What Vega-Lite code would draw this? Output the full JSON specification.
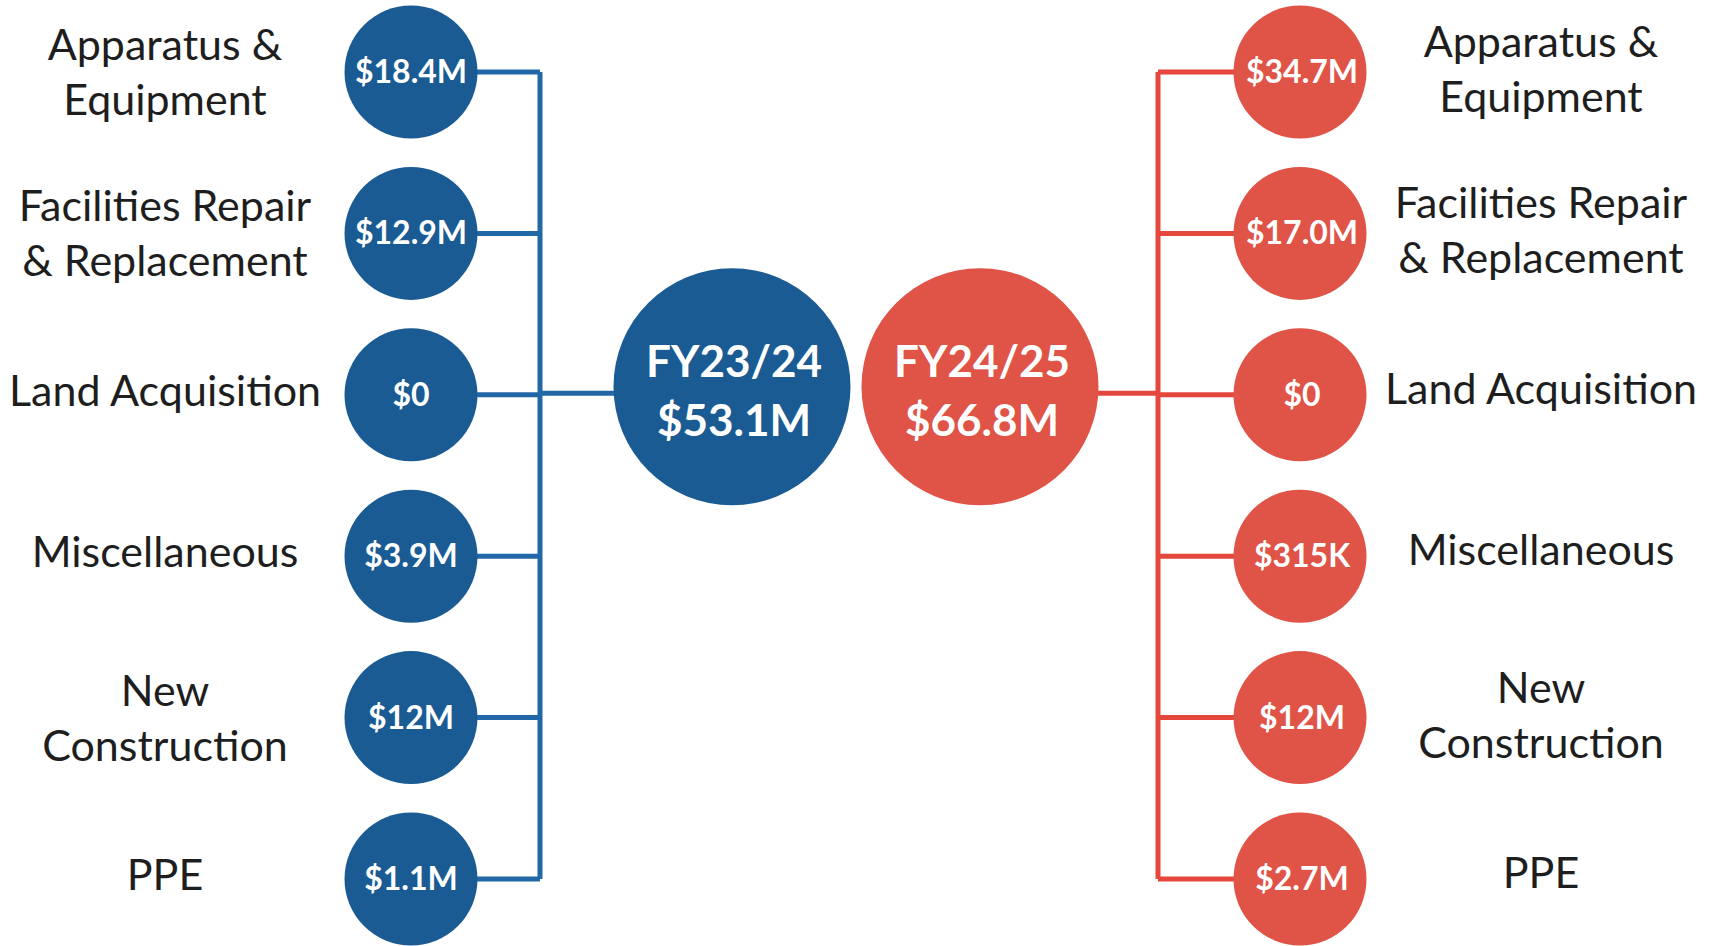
{
  "$schema": "https://vega.github.io/schema/vega-lite/v6.json",
  "width": 1713,
  "height": 946,
  "autosize": {"type": "fit", "contains": "padding"},
  "padding": 0,
  "background": "white",
  "config": {"view": {"stroke": null}, "axis": {"disable": true}},
  "datasets": {
    "items": [
      {"fy": "FY23/24", "rank": 1, "category": "Apparatus &\nEquipment", "value": 18.4, "value_label": "$18.4M"},
      {"fy": "FY23/24", "rank": 2, "category": "Facilities Repair\n& Replacement", "value": 12.9, "value_label": "$12.9M"},
      {"fy": "FY23/24", "rank": 3, "category": "Land Acquisition", "value": 0, "value_label": "$0"},
      {"fy": "FY23/24", "rank": 4, "category": "Miscellaneous", "value": 3.9, "value_label": "$3.9M"},
      {"fy": "FY23/24", "rank": 5, "category": "New\nConstruction", "value": 12, "value_label": "$12M"},
      {"fy": "FY23/24", "rank": 6, "category": "PPE", "value": 1.1, "value_label": "$1.1M"},
      {"fy": "FY24/25", "rank": 1, "category": "Apparatus &\nEquipment", "value": 34.7, "value_label": "$34.7M"},
      {"fy": "FY24/25", "rank": 2, "category": "Facilities Repair\n& Replacement", "value": 17.0, "value_label": "$17.0M"},
      {"fy": "FY24/25", "rank": 3, "category": "Land Acquisition", "value": 0, "value_label": "$0"},
      {"fy": "FY24/25", "rank": 4, "category": "Miscellaneous", "value": 0.315, "value_label": "$315K"},
      {"fy": "FY24/25", "rank": 5, "category": "New\nConstruction", "value": 12, "value_label": "$12M"},
      {"fy": "FY24/25", "rank": 6, "category": "PPE", "value": 2.7, "value_label": "$2.7M"}
    ],
    "totals": [
      {"fy": "FY23/24", "total": 53.1, "total_label": "$53.1M"},
      {"fy": "FY24/25", "total": 66.8, "total_label": "$66.8M"}
    ]
  },
  "layer": [
    {
      "data": {"name": "items"},
      "transform": [{"filter": "datum.fy === 'FY23/24'"}],
      "mark": {"type": "rule", "strokeWidth": 5, "color": "#2368a6"},
      "encoding": {
        "x": {"datum": 540, "type": "quantitative", "scale": {"domain": [0, 1713], "nice": false, "zero": false}},
        "y": {"aggregate": "min", "field": "rank", "type": "quantitative", "scale": {"domain": [0.554, 6.415], "reverse": true, "nice": false, "zero": false}},
        "y2": {"aggregate": "max", "field": "rank"}
      }
    },
    {
      "data": {"name": "items"},
      "transform": [{"filter": "datum.fy === 'FY23/24'"}],
      "mark": {"type": "rule", "strokeWidth": 5, "color": "#2368a6"},
      "encoding": {
        "x": {"datum": 411, "type": "quantitative"},
        "x2": {"datum": 540},
        "y": {"field": "rank", "type": "quantitative"}
      }
    },
    {
      "data": {"name": "items"},
      "transform": [{"filter": "datum.fy === 'FY24/25'"}],
      "mark": {"type": "rule", "strokeWidth": 5, "color": "#e6473d"},
      "encoding": {
        "x": {"datum": 1158, "type": "quantitative"},
        "y": {"aggregate": "min", "field": "rank", "type": "quantitative"},
        "y2": {"aggregate": "max", "field": "rank"}
      }
    },
    {
      "data": {"name": "items"},
      "transform": [{"filter": "datum.fy === 'FY24/25'"}],
      "mark": {"type": "rule", "strokeWidth": 5, "color": "#e6473d"},
      "encoding": {
        "x": {"datum": 1158, "type": "quantitative"},
        "x2": {"datum": 1300},
        "y": {"field": "rank", "type": "quantitative"}
      }
    },
    {
      "data": {"name": "totals"},
      "transform": [{"filter": "datum.fy === 'FY23/24'"}],
      "mark": {"type": "rule", "strokeWidth": 5, "color": "#2368a6"},
      "encoding": {
        "x": {"datum": 540, "type": "quantitative"},
        "x2": {"datum": 732},
        "y": {"datum": 2.99, "type": "quantitative"}
      }
    },
    {
      "data": {"name": "totals"},
      "transform": [{"filter": "datum.fy === 'FY24/25'"}],
      "mark": {"type": "rule", "strokeWidth": 5, "color": "#e6473d"},
      "encoding": {
        "x": {"datum": 980, "type": "quantitative"},
        "x2": {"datum": 1158},
        "y": {"datum": 2.99, "type": "quantitative"}
      }
    },
    {
      "data": {"name": "items"},
      "transform": [{"filter": "datum.fy === 'FY23/24'"}],
      "mark": {"type": "point", "shape": "circle", "filled": true, "opacity": 1, "size": 17689},
      "encoding": {
        "x": {"datum": 411, "type": "quantitative"},
        "y": {"field": "rank", "type": "quantitative"},
        "color": {"field": "fy", "type": "nominal", "scale": {"domain": ["FY23/24", "FY24/25"], "range": ["#1a5b93", "#e05347"]}, "legend": null}
      }
    },
    {
      "data": {"name": "items"},
      "transform": [{"filter": "datum.fy === 'FY24/25'"}],
      "mark": {"type": "point", "shape": "circle", "filled": true, "opacity": 1, "size": 17689},
      "encoding": {
        "x": {"datum": 1300, "type": "quantitative"},
        "y": {"field": "rank", "type": "quantitative"},
        "color": {"field": "fy", "type": "nominal", "legend": null}
      }
    },
    {
      "data": {"name": "totals"},
      "transform": [{"filter": "datum.fy === 'FY23/24'"}],
      "mark": {"type": "point", "shape": "circle", "filled": true, "opacity": 1, "size": 56169},
      "encoding": {
        "x": {"datum": 732, "type": "quantitative"},
        "y": {"datum": 2.95, "type": "quantitative"},
        "color": {"field": "fy", "type": "nominal", "legend": null}
      }
    },
    {
      "data": {"name": "totals"},
      "transform": [{"filter": "datum.fy === 'FY24/25'"}],
      "mark": {"type": "point", "shape": "circle", "filled": true, "opacity": 1, "size": 56169},
      "encoding": {
        "x": {"datum": 980, "type": "quantitative"},
        "y": {"datum": 2.95, "type": "quantitative"},
        "color": {"field": "fy", "type": "nominal", "legend": null}
      }
    },
    {
      "data": {"name": "items"},
      "transform": [{"filter": "datum.fy === 'FY23/24'"}],
      "mark": {"type": "text", "font": "Lato", "fontWeight": "bold", "fontSize": 32, "color": "white", "align": "center", "baseline": "middle", "dy": 1},
      "encoding": {
        "x": {"datum": 411, "type": "quantitative"},
        "y": {"field": "rank", "type": "quantitative"},
        "text": {"field": "value_label"}
      }
    },
    {
      "data": {"name": "items"},
      "transform": [{"filter": "datum.fy === 'FY24/25'"}],
      "mark": {"type": "text", "font": "Lato", "fontWeight": "bold", "fontSize": 32, "color": "white", "align": "center", "baseline": "middle", "dy": 1},
      "encoding": {
        "x": {"datum": 1302, "type": "quantitative"},
        "y": {"field": "rank", "type": "quantitative"},
        "text": {"field": "value_label"}
      }
    },
    {
      "data": {"name": "items"},
      "transform": [{"filter": "datum.fy === 'FY23/24' && indexof(datum.category, '\\n') < 0"}],
      "mark": {"type": "text", "font": "Lato", "fontSize": 43, "color": "#1e1e1e", "align": "center", "baseline": "middle", "dy": -2},
      "encoding": {
        "x": {"datum": 165, "type": "quantitative"},
        "y": {"field": "rank", "type": "quantitative"},
        "text": {"field": "category"}
      }
    },
    {
      "data": {"name": "items"},
      "transform": [{"filter": "datum.fy === 'FY23/24' && indexof(datum.category, '\\n') >= 0"}],
      "mark": {"type": "text", "font": "Lato", "fontSize": 43, "color": "#1e1e1e", "align": "center", "baseline": "middle", "lineBreak": "\n", "lineHeight": 55, "dy": -25},
      "encoding": {
        "x": {"datum": 165, "type": "quantitative"},
        "y": {"field": "rank", "type": "quantitative"},
        "text": {"field": "category"}
      }
    },
    {
      "data": {"name": "items"},
      "transform": [{"filter": "datum.fy === 'FY24/25' && indexof(datum.category, '\\n') < 0"}],
      "mark": {"type": "text", "font": "Lato", "fontSize": 43, "color": "#1e1e1e", "align": "center", "baseline": "middle", "dy": -4},
      "encoding": {
        "x": {"datum": 1541, "type": "quantitative"},
        "y": {"field": "rank", "type": "quantitative"},
        "text": {"field": "category"}
      }
    },
    {
      "data": {"name": "items"},
      "transform": [{"filter": "datum.fy === 'FY24/25' && indexof(datum.category, '\\n') >= 0"}],
      "mark": {"type": "text", "font": "Lato", "fontSize": 43, "color": "#1e1e1e", "align": "center", "baseline": "middle", "lineBreak": "\n", "lineHeight": 55, "dy": -28},
      "encoding": {
        "x": {"datum": 1541, "type": "quantitative"},
        "y": {"field": "rank", "type": "quantitative"},
        "text": {"field": "category"}
      }
    },
    {
      "data": {"name": "totals"},
      "transform": [{"filter": "datum.fy === 'FY23/24'"}],
      "mark": {"type": "text", "font": "Lato", "fontWeight": "bold", "fontSize": 44, "color": "white", "align": "center", "baseline": "middle"},
      "encoding": {
        "x": {"datum": 734, "type": "quantitative"},
        "y": {"datum": 2.81, "type": "quantitative"},
        "text": {"field": "fy"}
      }
    },
    {
      "data": {"name": "totals"},
      "transform": [{"filter": "datum.fy === 'FY23/24'"}],
      "mark": {"type": "text", "font": "Lato", "fontWeight": "bold", "fontSize": 44, "color": "white", "align": "center", "baseline": "middle"},
      "encoding": {
        "x": {"datum": 734, "type": "quantitative"},
        "y": {"datum": 3.175, "type": "quantitative"},
        "text": {"field": "total_label"}
      }
    },
    {
      "data": {"name": "totals"},
      "transform": [{"filter": "datum.fy === 'FY24/25'"}],
      "mark": {"type": "text", "font": "Lato", "fontWeight": "bold", "fontSize": 44, "color": "white", "align": "center", "baseline": "middle"},
      "encoding": {
        "x": {"datum": 982, "type": "quantitative"},
        "y": {"datum": 2.81, "type": "quantitative"},
        "text": {"field": "fy"}
      }
    },
    {
      "data": {"name": "totals"},
      "transform": [{"filter": "datum.fy === 'FY24/25'"}],
      "mark": {"type": "text", "font": "Lato", "fontWeight": "bold", "fontSize": 44, "color": "white", "align": "center", "baseline": "middle"},
      "encoding": {
        "x": {"datum": 982, "type": "quantitative"},
        "y": {"datum": 3.175, "type": "quantitative"},
        "text": {"field": "total_label"}
      }
    }
  ]
}
